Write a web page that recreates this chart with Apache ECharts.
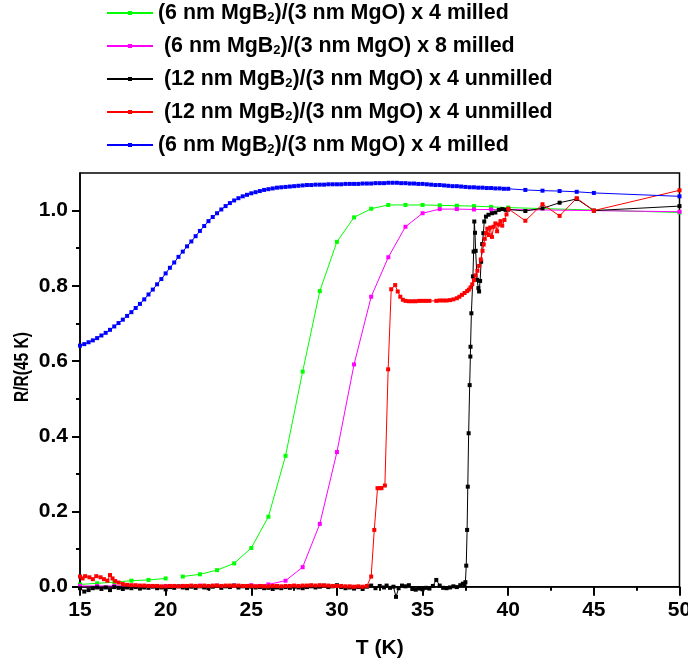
<!DOCTYPE html>
<html>
<head>
<meta charset="utf-8">
<script src="https://cdn.jsdelivr.net/npm/echarts@6/dist/echarts.min.js"></script>
<style>
  html, body { margin: 0; padding: 0; background: #fff; }
  #chart { width: 688px; height: 667px; }
</style>
</head>
<body>
<div id="chart"></div>
<script>
// Axis ticks
const xRange = [15, 50];
const xTickStep = 5;
const yRange = [0, 1.1];
const yMajorTicks = [0, 0.2, 0.4, 0.6, 0.8, 1.0];
const yMinorTicks = [0.1, 0.3, 0.5, 0.7, 0.9];

// Legend entries (one per series, in drawing order)
const seriesNames = [
  '(6 nm MgB2)/(3 nm MgO) x 4 milled',
  ' (6 nm MgB2)/(3 nm MgO) x 8 milled',
  ' (12 nm MgB2)/(3 nm MgO) x 4 unmilled',
  ' (12 nm MgB2)/(3 nm MgO) x 4 unmilled ',
  '(6 nm MgB2)/(3 nm MgO) x 4 milled '
];
const seriesColors = ['#00ff00', '#ff00ff', '#000000', '#ff0000', '#0000ff'];

// R/R(45 K) versus T (K)
const greenData = [
  [15, 0.006], [16, 0.009], [17, 0.012], [18, 0.016], [19, 0.018], [20, 0.022],
  [20.5, '-'],
  [21, 0.027], [22, 0.033], [23, 0.044], [24, 0.062], [25, 0.103], [26, 0.186],
  [27, 0.348], [28, 0.572], [29, 0.786], [30, 0.917], [31, 0.982], [32, 1.005],
  [33, 1.015], [34, 1.015], [35, 1.015], [36, 1.014], [37, 1.013], [38, 1.012],
  [39, 1.010], [40, 1.008], [50, 0.995]
];

const magentaData = [
  [15, 0.002], [16, 0.002], [17, 0.002], [18, 0.002], [19, 0.002], [20, 0.002],
  [21, 0.002], [22, 0.003], [23, 0.003], [24, 0.003], [25, 0.004], [26, 0.006],
  [27, 0.016], [28, 0.052], [29, 0.167], [30, 0.358], [31, 0.591], [32, 0.771],
  [33, 0.876], [34, 0.957], [35, 0.993], [36, 1.004], [37, 1.004], [38, 1.003],
  [39, 1.003], [40, 1.003], [50, 0.997]
];

const blackData = [
  [15.0, -0.004], [15.25, -0.013], [15.5, -0.009], [15.75, -0.004], [16.0, -0.002],
  [16.25, -0.006], [16.5, -0.002], [16.75, -0.009], [17.0, -0.001], [17.25, -0.003],
  [17.5, -0.006], [17.75, -0.002], [18.0, -0.004], [18.25, -0.001], [18.5, -0.005],
  [18.75, -0.002], [19.0, -0.003], [19.25, 0.000], [19.5, -0.004], [19.75, -0.002],
  [20.0, -0.007], [20.25, -0.001], [20.5, -0.003], [20.75, 0.001], [21.0, -0.002],
  [21.25, -0.004], [21.5, 0.000], [21.75, -0.003], [22.0, 0.001], [22.25, -0.002],
  [22.5, -0.004], [22.75, 0.000], [23.0, 0.002], [23.25, -0.003], [23.5, 0.001],
  [23.75, -0.001], [24.0, 0.003], [24.25, -0.002], [24.5, 0.001], [24.75, -0.003],
  [25.0, 0.000], [25.25, -0.002], [25.5, -0.001], [25.75, -0.004], [26.0, -0.003],
  [26.25, -0.006], [26.5, -0.002], [26.75, -0.004], [27.0, -0.001], [27.25, -0.003],
  [27.5, 0.000], [27.75, -0.002], [28.0, -0.004], [28.25, -0.001], [28.5, 0.001],
  [28.75, -0.002], [29.0, 0.000], [29.25, 0.003], [29.5, -0.001], [29.75, 0.001],
  [30.0, 0.004], [30.25, -0.001], [30.5, -0.004], [30.75, -0.002], [31.0, -0.005],
  [31.25, -0.001], [31.5, -0.006], [31.75, 0.000], [32.0, 0.003], [32.25, -0.004],
  [32.5, 0.002], [32.75, -0.002], [32.9, 0.003], [33.1, -0.003], [33.3, 0.000],
  [33.45, -0.027], [33.6, -0.004], [33.8, 0.003], [34.0, 0.001], [34.2, 0.004],
  [34.4, -0.006], [34.6, -0.008], [34.8, -0.005], [35.0, -0.007], [35.2, -0.003],
  [35.4, -0.005], [35.6, 0.002], [35.8, 0.018], [36.0, 0.003], [36.2, -0.003],
  [36.4, -0.004], [36.6, -0.002], [36.8, 0.001], [37.0, -0.001], [37.2, 0.004],
  [37.35, 0.008], [37.45, 0.005], [37.5, 0.012], [37.55, 0.056], [37.6, 0.151],
  [37.64, 0.266], [37.69, 0.408], [37.75, 0.536], [37.79, 0.612], [37.8, 0.638],
  [37.85, 0.727], [37.94, 0.825], [37.98, 0.891], [38.02, 0.971], [38.06, 0.941],
  [38.1, 0.893], [38.18, 0.816], [38.26, 0.794], [38.3, 0.785], [38.36, 0.813],
  [38.42, 0.864], [38.48, 0.911], [38.55, 0.940], [38.6, 0.971], [38.7, 0.984],
  [38.85, 0.989], [39.05, 0.993], [39.25, 0.995], [39.45, 1.002], [39.65, 1.004],
  [39.85, 1.002], [40.0, 1.003], [41, 0.999], [42, 1.006], [43, 1.021], [44, 1.031],
  [45, 1.000], [50, 1.012]
];

const redData = [
  [15.0, 0.027], [15.15, 0.022], [15.3, 0.028], [15.55, 0.025], [15.75, 0.020],
  [15.95, 0.028], [16.2, 0.025], [16.4, 0.020], [16.6, 0.016], [16.75, 0.031],
  [16.9, 0.022], [17.05, 0.015], [17.25, 0.011], [17.5, 0.007], [17.75, 0.005],
  [18.0, 0.004], [18.25, 0.004], [18.5, 0.003], [18.75, 0.003], [19.0, 0.002],
  [19.25, 0.002], [19.5, 0.002], [19.75, 0.001], [20.0, 0.001], [20.25, 0.002],
  [20.5, 0.002], [20.75, 0.001], [21.0, 0.002], [21.25, 0.002], [21.5, 0.003],
  [21.75, 0.002], [22.0, 0.002], [22.25, 0.003], [22.5, 0.002], [22.75, 0.003],
  [23.0, 0.003], [23.25, 0.002], [23.5, 0.003], [23.75, 0.003], [24.0, 0.002],
  [24.25, 0.003], [24.5, 0.002], [24.75, 0.002], [25.0, 0.002], [25.25, 0.001],
  [25.5, 0.002], [25.75, 0.001], [26.0, 0.001], [26.25, 0.002], [26.5, 0.002],
  [26.75, 0.001], [27.0, 0.002], [27.25, 0.002], [27.5, 0.003], [27.75, 0.002],
  [28.0, 0.003], [28.25, 0.003], [28.5, 0.004], [28.75, 0.003], [29.0, 0.004],
  [29.25, 0.003], [29.5, 0.003], [29.75, 0.002], [30.0, 0.002], [30.25, 0.002],
  [30.5, 0.001], [30.75, 0.001], [31.0, 0.000], [31.25, 0.001], [31.5, 0.000],
  [31.75, 0.002], [32.0, 0.027], [32.18, 0.151], [32.37, 0.262], [32.5, 0.262],
  [32.6, 0.262], [32.8, 0.269], [32.99, 0.578], [33.17, 0.791], [33.4, 0.802],
  [33.55, 0.785], [33.7, 0.771], [33.85, 0.763], [34.0, 0.760], [34.2, 0.759],
  [34.4, 0.759], [34.6, 0.759], [34.8, 0.760], [35.0, 0.760], [35.2, 0.760],
  [35.4, 0.760], [35.8, 0.760], [36.0, 0.761], [36.2, 0.761], [36.4, 0.761],
  [36.6, 0.762], [36.8, 0.764], [37.0, 0.767], [37.15, 0.771], [37.3, 0.776],
  [37.45, 0.781], [37.6, 0.786], [37.7, 0.790], [37.8, 0.796], [37.9, 0.804],
  [38.0, 0.815], [38.1, 0.828], [38.2, 0.840], [38.3, 0.853], [38.4, 0.870],
  [38.5, 0.893], [38.57, 0.910], [38.63, 0.925], [38.7, 0.940], [38.78, 0.952],
  [38.86, 0.935], [38.95, 0.955], [39.05, 0.930], [39.15, 0.957], [39.25, 0.966],
  [39.35, 0.945], [39.45, 0.963], [39.55, 0.972], [39.65, 0.960], [39.78, 0.975],
  [39.9, 0.990], [40.0, 1.005], [41, 0.973], [42, 1.017], [43, 0.986], [44, 1.033],
  [45, 1.000], [50, 1.054]
];

const blueData = [
  [15.00, 0.641], [15.25, 0.645], [15.50, 0.650], [15.75, 0.655], [16.00, 0.661],
  [16.25, 0.668], [16.50, 0.675], [16.75, 0.683], [17.00, 0.692], [17.25, 0.701],
  [17.50, 0.710], [17.75, 0.720], [18.00, 0.730], [18.25, 0.741], [18.50, 0.752],
  [18.75, 0.764], [19.00, 0.777], [19.25, 0.790], [19.50, 0.804], [19.75, 0.818],
  [20.00, 0.833], [20.25, 0.848], [20.50, 0.862], [20.75, 0.877], [21.00, 0.891],
  [21.25, 0.905], [21.50, 0.918], [21.75, 0.932], [22.00, 0.946], [22.25, 0.959],
  [22.50, 0.972], [22.75, 0.983], [23.00, 0.993], [23.25, 1.003], [23.50, 1.012],
  [23.75, 1.020], [24.00, 1.027], [24.25, 1.033], [24.50, 1.038], [24.75, 1.042],
  [25.00, 1.046], [25.25, 1.049], [25.50, 1.052], [25.75, 1.055], [26.00, 1.057],
  [26.25, 1.059], [26.50, 1.061], [26.75, 1.062], [27.00, 1.063], [27.25, 1.064],
  [27.50, 1.065], [27.75, 1.066], [28.00, 1.067], [28.25, 1.068], [28.50, 1.068],
  [28.75, 1.069], [29.00, 1.069], [29.25, 1.069], [29.50, 1.070], [29.75, 1.070],
  [30.00, 1.070], [30.25, 1.070], [30.50, 1.071], [30.75, 1.071], [31.00, 1.071],
  [31.25, 1.071], [31.50, 1.072], [31.75, 1.072], [32.00, 1.072], [32.25, 1.073],
  [32.50, 1.073], [32.75, 1.073], [33.00, 1.074], [33.25, 1.074], [33.50, 1.074],
  [33.75, 1.073], [34.00, 1.073], [34.25, 1.072], [34.50, 1.072], [34.75, 1.071],
  [35.00, 1.071], [35.25, 1.070], [35.50, 1.069], [35.75, 1.068], [36.00, 1.068],
  [36.25, 1.067], [36.50, 1.066], [36.75, 1.065], [37.00, 1.065], [37.25, 1.064],
  [37.50, 1.063], [37.75, 1.062], [38.00, 1.062], [38.25, 1.061], [38.50, 1.061],
  [38.75, 1.060], [39.00, 1.060], [39.25, 1.059], [39.50, 1.059], [39.75, 1.058],
  [40.00, 1.058], [41, 1.055], [42, 1.053], [43, 1.052], [44, 1.050], [45, 1.047],
  [50, 1.038]
];

const allData = [greenData, magentaData, blackData, redData, blueData];

const FONT = 'Liberation Sans, Arial, Helvetica, sans-serif';
const chart = echarts.init(document.getElementById('chart'), null, { renderer: 'canvas' });

// Plot area in pixels
const PLOT = { left: 80, top: 173, width: 599.5, height: 413.7 };
const yToPx = v => PLOT.top + PLOT.height * (1 - (v - yRange[0]) / (yRange[1] - yRange[0]));

const tickLabelStyle = { color: '#000', fontFamily: FONT, fontWeight: 'bold', fontSize: 21 };
const axisLineStyle = { color: '#000', width: 1.5 };
const tickLine = { color: '#000', width: 2 };

// Extra grids that only carry tick marks (no data)
function tickGrid(lo, hi) {
  const top = yToPx(hi);
  return { left: PLOT.left, top: top, width: PLOT.width, height: yToPx(lo) - top, show: false, outerBoundsMode: 'none' };
}
function hiddenX(gridIndex) {
  return { type: 'value', gridIndex: gridIndex, show: false, min: xRange[0], max: xRange[1] };
}
function tickY(gridIndex, ticks, len) {
  return {
    type: 'value', gridIndex: gridIndex, position: 'left',
    min: ticks[0], max: ticks[ticks.length - 1], interval: ticks[1] - ticks[0],
    axisLine: { show: false },
    axisTick: { show: true, inside: false, length: len, lineStyle: tickLine },
    axisLabel: { show: false },
    splitLine: { show: false }
  };
}

const option = {
  animation: false,
  backgroundColor: '#fff',
  grid: [
    Object.assign({ show: true, borderColor: '#000', borderWidth: 1.5, backgroundColor: 'transparent', outerBoundsMode: 'none' }, PLOT),
    tickGrid(yMajorTicks[0], yMajorTicks[yMajorTicks.length - 1]),
    tickGrid(yMinorTicks[0], yMinorTicks[yMinorTicks.length - 1])
  ],
  legend: {
    orient: 'vertical',
    left: 106, top: 2, padding: 0,
    itemWidth: 46, itemHeight: 5, itemGap: 11,
    data: seriesNames,
    formatter: name => name.replace('MgB2', 'MgB{sub|2}'),
    textStyle: {
      color: '#000', fontFamily: FONT, fontWeight: 'bold', fontSize: 21.4, lineHeight: 22,
      rich: {
        sub: { fontFamily: FONT, fontWeight: 'bold', fontSize: 13, lineHeight: 1, verticalAlign: 'bottom', color: '#000' }
      }
    }
  },
  xAxis: [{
    type: 'value', gridIndex: 0, min: xRange[0], max: xRange[1], interval: xTickStep,
    axisLine: { show: true, onZero: false, lineStyle: axisLineStyle },
    axisTick: { show: false },
    minorTick: { show: false },
    axisLabel: Object.assign({ margin: 13 }, tickLabelStyle),
    splitLine: { show: false },
    minorSplitLine: { show: false },
    name: 'T (K)', nameLocation: 'middle', nameGap: 51,
    nameTextStyle: { color: '#000', fontFamily: FONT, fontWeight: 'bold', fontSize: 21 }
  }, {
    // major and minor x ticks, on a grid whose bottom edge is y = 0
    type: 'value', gridIndex: 1, position: 'bottom',
    min: xRange[0], max: xRange[1], interval: xTickStep,
    axisLine: { show: false, onZero: false },
    axisTick: { show: true, inside: false, length: 9, lineStyle: tickLine },
    minorTick: { show: true, splitNumber: 2, length: 4, lineStyle: tickLine },
    axisLabel: { show: false },
    splitLine: { show: false },
    minorSplitLine: { show: false }
  }, hiddenX(2)],
  yAxis: [{
    type: 'value', gridIndex: 0, min: yRange[0], max: yRange[1],
    axisLine: { show: true, onZero: false, lineStyle: axisLineStyle },
    axisTick: { show: false },
    axisLabel: Object.assign({ margin: 12, customValues: yMajorTicks, formatter: v => v.toFixed(1) }, tickLabelStyle),
    splitLine: { show: false }
  }, tickY(1, yMajorTicks, 8), tickY(2, yMinorTicks, 4)],
  graphic: [{
    type: 'text',
    x: 22, y: 367,
    rotation: Math.PI / 2,
    scaleX: 0.74,
    style: {
      text: 'R/R(45 K)',
      fontSize: 21,
      fontWeight: 'bold',
      fontFamily: FONT,
      fill: '#000',
      align: 'center',
      verticalAlign: 'middle'
    }
  }],
  series: seriesNames.map((name, i) => ({
    name: name,
    type: 'line',
    xAxisIndex: 0,
    yAxisIndex: 0,
    data: allData[i],
    clip: false,
    symbol: 'rect',
    symbolSize: 4,
    showSymbol: true,
    lineStyle: { color: seriesColors[i], width: 1 },
    itemStyle: { color: seriesColors[i] },
    emphasis: { disabled: true },
    z: 2 + i
  }))
};

chart.setOption(option);
</script>
</body>
</html>
